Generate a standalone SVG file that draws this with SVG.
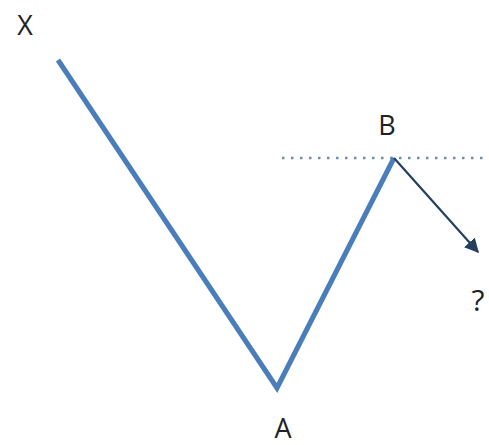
<svg xmlns="http://www.w3.org/2000/svg" width="489" height="445" viewBox="0 0 489 445">
<style>
.lbl{font-family:"Open Sans","Liberation Sans",sans-serif;font-size:27px;fill:#222;text-anchor:middle}
.wave{fill:none;stroke:#4a7ebb;stroke-width:5;stroke-linejoin:miter;stroke-linecap:butt}
.dot{fill:none;stroke:#6f8fb0;stroke-width:2.5;stroke-dasharray:2.5 6.5}
.arr{fill:none;stroke:#243f60;stroke-width:2.2}
</style>
<defs>
<marker id="ah" viewBox="0 0 10 10" refX="9" refY="5" markerWidth="6.5" markerHeight="6.5" orient="auto" markerUnits="strokeWidth">
<path d="M0,0 L10,5 L0,10 z" fill="#243f60"/>
</marker>
</defs>
<g id="connectors">
<line class="dot" x1="282" y1="158" x2="489" y2="158"/>
<polyline class="wave" points="58,60 277,388 394,158"/>
<line class="arr" x1="394" y1="158" x2="478" y2="252" marker-end="url(#ah)"/>
</g>
<g id="X"><text class="lbl" x="25" y="35">X</text></g>
<g id="B"><text class="lbl" x="387" y="135">B</text></g>
<g id="A"><text class="lbl" x="283" y="438">A</text></g>
<g id="Q"><text class="lbl" x="478" y="311" style="font-size:30px">?</text></g>
</svg>
